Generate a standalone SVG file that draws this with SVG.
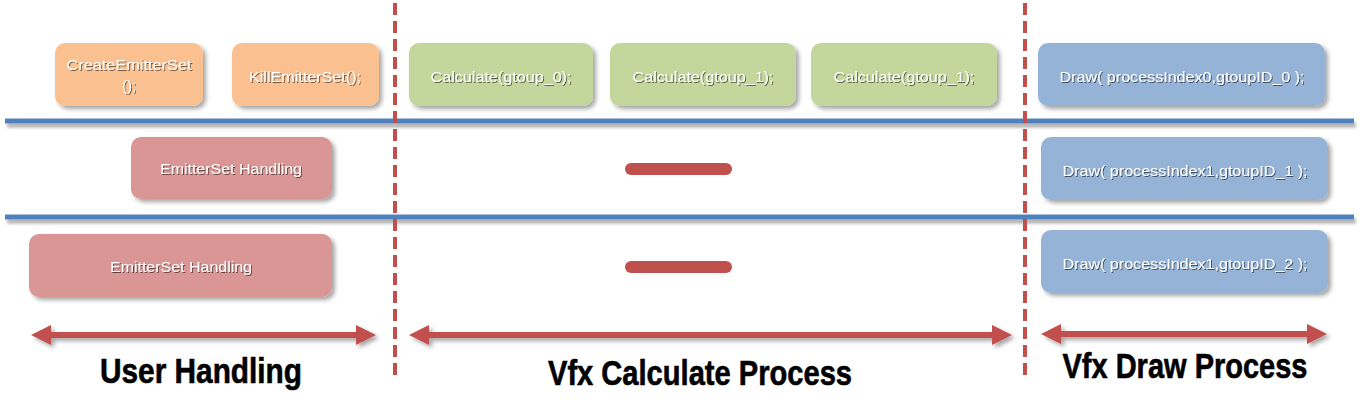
<svg xmlns="http://www.w3.org/2000/svg" width="1366" height="420" viewBox="0 0 1366 420">
<defs>
<filter id="sh" x="-10%" y="-20%" width="130%" height="160%">
<feDropShadow dx="3" dy="3" stdDeviation="2" flood-color="#000" flood-opacity="0.35"/>
</filter>
<filter id="ash" filterUnits="userSpaceOnUse" x="0" y="0" width="1366" height="420">
<feDropShadow dx="3" dy="3" stdDeviation="2" flood-color="#000" flood-opacity="0.35"/>
</filter>
<filter id="tsh" x="-5%" y="-30%" width="115%" height="170%">
<feDropShadow dx="1" dy="1" stdDeviation="0.6" flood-color="#000" flood-opacity="0.55"/>
</filter>
<filter id="lsh" filterUnits="userSpaceOnUse" x="0" y="0" width="1366" height="420">
<feDropShadow dx="2" dy="4" stdDeviation="1.8" flood-color="#000" flood-opacity="0.3"/>
</filter>
<marker id="ah" viewBox="0 0 20 20" refX="1" refY="10" markerWidth="20" markerHeight="20" markerUnits="userSpaceOnUse" orient="auto-start-reverse">
<path d="M0,0 L20,10 L0,20 z" fill="#C0504D"/>
</marker>
</defs>
<style>
.box{stroke:none;filter:url(#sh)}
.or{fill:#FAC090}.gr{fill:#C3D69B}.bl{fill:#95B3D7}.pk{fill:#D99694}
.bt{font-family:"Liberation Sans","Noto Sans",sans-serif;font-size:15px;fill:#fff;text-anchor:middle;filter:url(#tsh)}
.ttl{font-family:"Liberation Sans Narrow","Liberation Sans",sans-serif;font-weight:bold;font-size:35px;fill:#000;stroke:#000;stroke-width:0.6;text-anchor:middle}
.sep{stroke:#4F81BD;stroke-width:5;filter:url(#lsh)}
.dash{stroke:#C0504D;stroke-width:4;stroke-dasharray:12 6}
.arr{stroke:#C0504D;stroke-width:6;fill:none;marker-start:url(#ah);marker-end:url(#ah);filter:url(#ash)}
.bar{fill:#C0504D}
</style>
<rect width="1366" height="420" fill="#fff"/>
<g id="separators">
<line class="sep" x1="5" y1="121" x2="1354" y2="121"/>
<line class="sep" x1="5" y1="217" x2="1354" y2="217"/>
</g>
<g id="n-create"><rect class="box or" x="55" y="43" width="148" height="63" rx="10"/>
<text class="bt" x="129" y="70" textLength="125" lengthAdjust="spacingAndGlyphs">CreateEmitterSet</text>
<text class="bt" x="129" y="91">();</text></g>
<g id="n-kill"><rect class="box or" x="232" y="43" width="147" height="63" rx="10"/>
<text class="bt" x="305" y="82" textLength="112" lengthAdjust="spacingAndGlyphs">KillEmitterSet();</text></g>
<g id="n-calc0"><rect class="box gr" x="409" y="43" width="184" height="63" rx="10"/>
<text class="bt" x="501" y="82" textLength="141" lengthAdjust="spacingAndGlyphs">Calculate(gtoup_0);</text></g>
<g id="n-calc1"><rect class="box gr" x="610" y="43" width="186" height="63" rx="10"/>
<text class="bt" x="703" y="82" textLength="141" lengthAdjust="spacingAndGlyphs">Calculate(gtoup_1);</text></g>
<g id="n-calc2"><rect class="box gr" x="811" y="43" width="186" height="63" rx="10"/>
<text class="bt" x="904" y="82" textLength="141" lengthAdjust="spacingAndGlyphs">Calculate(gtoup_1);</text></g>
<g id="n-draw0"><rect class="box bl" x="1038" y="43" width="287" height="63" rx="10"/>
<text class="bt" x="1182" y="82" textLength="245" lengthAdjust="spacingAndGlyphs">Draw( processIndex0,gtoupID_0 );</text></g>
<g id="n-handle1"><rect class="box pk" x="131" y="137" width="201" height="62" rx="10"/>
<text class="bt" x="231" y="174" textLength="142" lengthAdjust="spacingAndGlyphs">EmitterSet Handling</text></g>
<g id="n-draw1"><rect class="box bl" x="1041" y="137" width="287" height="63" rx="10"/>
<text class="bt" x="1185" y="176" textLength="245" lengthAdjust="spacingAndGlyphs">Draw( processIndex1,gtoupID_1 );</text></g>
<g id="n-handle2"><rect class="box pk" x="29" y="234" width="303" height="63" rx="10"/>
<text class="bt" x="181" y="272" textLength="142" lengthAdjust="spacingAndGlyphs">EmitterSet Handling</text></g>
<g id="n-draw2"><rect class="box bl" x="1041" y="230" width="287" height="63" rx="10"/>
<text class="bt" x="1185" y="269" textLength="245" lengthAdjust="spacingAndGlyphs">Draw( processIndex1,gtoupID_2 );</text></g>
<g id="n-bar1"><rect class="bar" x="625" y="163" width="107" height="12" rx="6"/></g>
<g id="n-bar2"><rect class="bar" x="625" y="261" width="107" height="12" rx="6"/></g>
<g id="dividers">
<line class="dash" x1="395" y1="3" x2="395" y2="380"/>
<line class="dash" x1="1025" y1="3" x2="1025" y2="378"/>
</g>
<g id="connectors">
<line class="arr" x1="50" y1="335" x2="357" y2="335"/>
<line class="arr" x1="428" y1="335" x2="993" y2="335"/>
<line class="arr" x1="1060" y1="334" x2="1308" y2="334"/>
</g>
<g id="labels">
<text class="ttl" x="201" y="383" textLength="202" lengthAdjust="spacingAndGlyphs">User Handling</text>
<text class="ttl" x="700" y="385" textLength="304" lengthAdjust="spacingAndGlyphs">Vfx Calculate Process</text>
<text class="ttl" x="1185" y="378" textLength="245" lengthAdjust="spacingAndGlyphs">Vfx Draw Process</text>
</g>
</svg>
